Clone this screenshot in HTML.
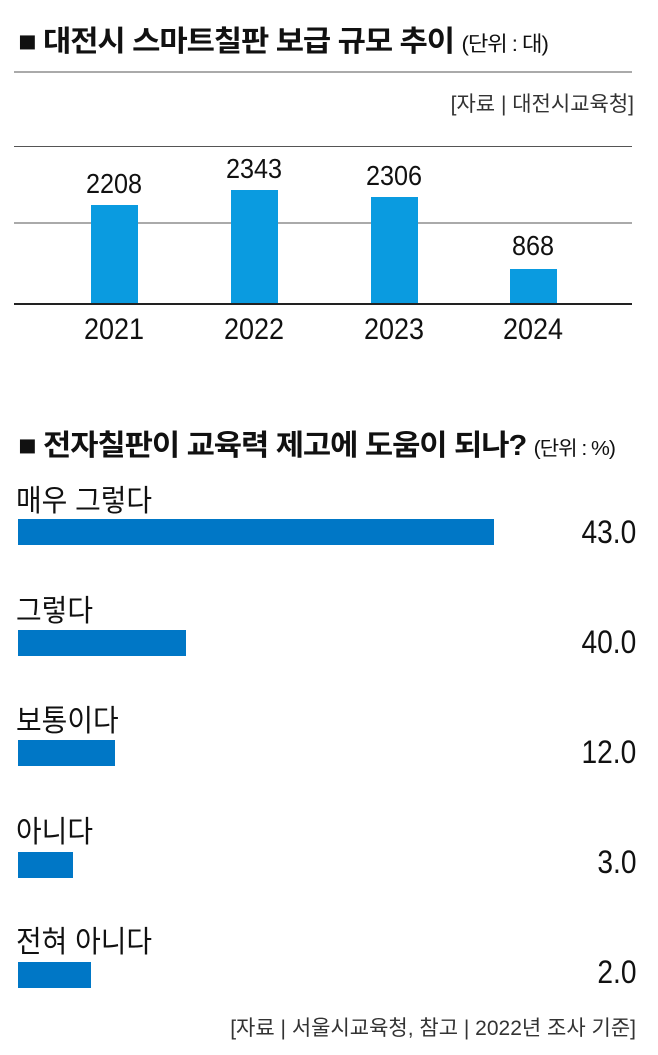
<!DOCTYPE html>
<html><head><meta charset="utf-8"><style>
body{margin:0;width:658px;height:1055px;background:#fff;position:relative;overflow:hidden;font-family:"Liberation Sans","Noto Sans CJK KR",sans-serif;color:#111}
.a{position:absolute;white-space:nowrap}
.n{transform:scaleX(0.93);transform-origin:left center}
.t{transform:scaleX(1.06);transform-origin:left center}
.c{transform:translateX(-50%) scaleX(0.9)}
.r{transform:scaleX(0.88);transform-origin:right center;text-align:right}
.line{position:absolute;left:14px;width:618px}
.vb{position:absolute;background:#0a9be0;width:47px}
.hb{position:absolute;left:18px;height:26px;background:#0077c6}
</style></head><body>
<div class="a t" style="left:18px;top:18px;font-size:29px;font-weight:bold;letter-spacing:-1px">■ 대전시 스마트칠판 보급 규모 추이 <span style="font-size:21px;font-weight:normal">(단위 : 대)</span></div>
<div class="line" style="top:71px;height:2px;background:#aaa"></div>
<div class="a" style="right:24px;top:88px;font-size:21px;color:#333">[자료 | 대전시교육청]</div>
<div class="line" style="top:146px;height:1px;background:#555"></div>
<div class="line" style="top:222px;height:2px;background:#aaa"></div>
<div class="vb" style="left:91px;top:205px;height:99px"></div>
<div class="vb" style="left:231px;top:190px;height:114px"></div>
<div class="vb" style="left:371px;top:197px;height:107px"></div>
<div class="vb" style="left:510px;top:269px;height:35px"></div>
<div class="line" style="top:303px;height:2px;background:#222"></div>
<div class="a c" style="left:114px;top:168px;font-size:28px">2208</div>
<div class="a c" style="left:254px;top:153px;font-size:28px">2343</div>
<div class="a c" style="left:394px;top:160px;font-size:28px">2306</div>
<div class="a c" style="left:533px;top:230px;font-size:28px">868</div>
<div class="a c" style="left:114px;top:313px;font-size:30px">2021</div>
<div class="a c" style="left:254px;top:313px;font-size:30px">2022</div>
<div class="a c" style="left:394px;top:313px;font-size:30px">2023</div>
<div class="a c" style="left:533px;top:313px;font-size:30px">2024</div>

<div class="a t" style="left:18px;top:422px;font-size:29px;font-weight:bold;letter-spacing:-1px">■ 전자칠판이 교육력 제고에 도움이 되나? <span style="font-size:20px;font-weight:normal">(단위 : %)</span></div>

<div class="a n" style="left:16px;top:476px;font-size:30px">매우 그렇다</div>
<div class="hb" style="top:519px;width:476px"></div>
<div class="a r" style="right:22px;top:514px;font-size:32px">43.0</div>

<div class="a n" style="left:16px;top:586px;font-size:30px">그렇다</div>
<div class="hb" style="top:630px;width:168px"></div>
<div class="a r" style="right:22px;top:624px;font-size:32px">40.0</div>

<div class="a n" style="left:16px;top:696px;font-size:30px">보통이다</div>
<div class="hb" style="top:740px;width:97px"></div>
<div class="a r" style="right:22px;top:734px;font-size:32px">12.0</div>

<div class="a n" style="left:16px;top:807px;font-size:30px">아니다</div>
<div class="hb" style="top:852px;width:55px"></div>
<div class="a r" style="right:22px;top:844px;font-size:32px">3.0</div>

<div class="a n" style="left:16px;top:917px;font-size:30px">전혀 아니다</div>
<div class="hb" style="top:962px;width:73px"></div>
<div class="a r" style="right:22px;top:954px;font-size:32px">2.0</div>

<div class="a" style="right:22px;top:1012px;font-size:21px;color:#333">[자료 | 서울시교육청, 참고 | 2022년 조사 기준]</div>
</body></html>
